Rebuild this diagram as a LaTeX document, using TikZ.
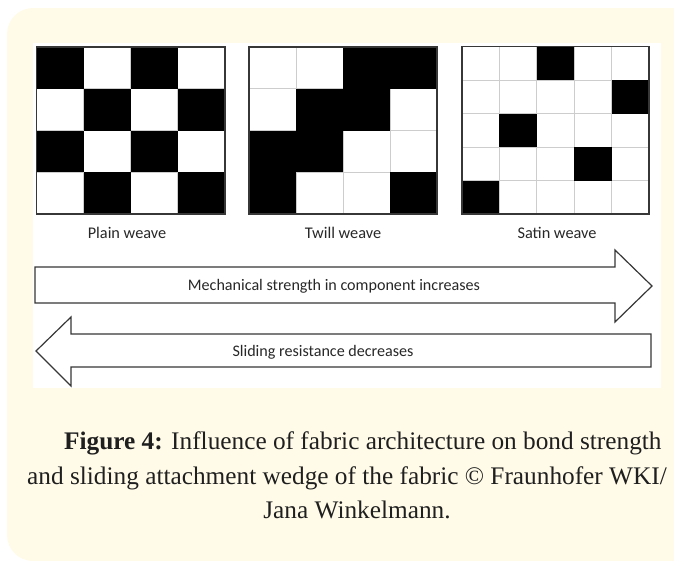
\documentclass[tikz,border=0pt]{standalone}
\usepackage{fontspec}
\setmainfont{Liberation Serif}
\newfontfamily\labelfont{Carlito}
\definecolor{cream}{RGB}{255,251,232}
\definecolor{gridgray}{RGB}{205,205,205}
\definecolor{edgegray}{RGB}{55,55,55}
\definecolor{inkgray}{RGB}{40,40,40}
\tikzset{
  whitecell/.style={fill=white, draw=gridgray, line width=1pt},
  blackcell/.style={fill=black},
  frame/.style={draw=edgegray, line width=1.3pt},
  bigarrow/.style={draw=edgegray, fill=white, line width=1.2pt, line join=miter},
  weavelabel/.style={font=\labelfont\fontsize{16.3}{19}\selectfont, text=inkgray, inner sep=0pt},
  arrowtext/.style={font=\labelfont\fontsize{16.1}{19}\selectfont, text=inkgray, inner sep=0pt},
  captiontext/.style={font=\fontsize{25.3}{30}\selectfont, text=black!88, inner sep=0pt}
}
\begin{document}
\begin{tikzpicture}[x=1pt,y=-1pt]
\useasboundingbox (0,0) rectangle (674,560);
\clip (0,0) rectangle (674,560);

% cream card and white figure panel
\fill[cream, rounded corners=26pt] (7,8) rectangle (700,561);
\fill[white] (33,43) rectangle (661,388);

% plain weave: 4 x 4 checkerboard
\begin{scope}[shift={(36.5,47)}]
  \foreach \c in {0,...,3} \foreach \r in {0,...,3}
    \path[whitecell] (\c*47.1,\r*41.75) rectangle ++(47.1,41.75);
  \foreach \c/\r in {0/0,2/0,1/1,3/1,0/2,2/2,1/3,3/3}
    \path[blackcell] (\c*47.1,\r*41.75) rectangle ++(47.1,41.75);
  \draw[frame] (0,0) rectangle (188.5,167);
\end{scope}

% twill weave: 4 x 4 diagonal pattern
\begin{scope}[shift={(249,47)}]
  \foreach \c in {0,...,3} \foreach \r in {0,...,3}
    \path[whitecell] (\c*47,\r*41.75) rectangle ++(47,41.75);
  \foreach \c/\r in {2/0,3/0,1/1,2/1,0/2,1/2,0/3,3/3}
    \path[blackcell] (\c*47,\r*41.75) rectangle ++(47,41.75);
  \draw[frame] (0,0) rectangle (188,167);
\end{scope}

% satin weave: 5 x 5 scattered floats
\begin{scope}[shift={(462,46.5)}]
  \foreach \c in {0,...,4} \foreach \r in {0,...,4}
    \path[whitecell] (\c*37.4,\r*33.5) rectangle ++(37.4,33.5);
  \foreach \c/\r in {2/0,4/1,1/2,3/3,0/4}
    \path[blackcell] (\c*37.4,\r*33.5) rectangle ++(37.4,33.5);
  \draw[frame] (0,0) rectangle (187,167.5);
\end{scope}

\node[weavelabel] (plain) at (127,233) {Plain weave};
\node[weavelabel] (twill) at (343,233) {Twill weave};
\node[weavelabel] (satin) at (557,233) {Satin weave};

% block arrows
\draw[bigarrow] (35,267) -- (615,267) -- (615,250) -- (652,286)
  -- (615,322) -- (615,303) -- (35,303) -- cycle;
\draw[bigarrow] (651,334) -- (71,334) -- (71,317) -- (36,351)
  -- (71,386) -- (71,367) -- (651,367) -- cycle;

\node[arrowtext] (strength) at (334,286) {Mechanical strength in component increases};
\node[arrowtext] (sliding) at (323,352) {Sliding resistance decreases};

% caption
\node[captiontext, anchor=base west] (cap1) at (64,449)
  {\textbf{Figure 4:} Influence of fabric architecture on bond strength};
\node[captiontext, anchor=base west] (cap2) at (27,484)
  {and sliding attachment wedge of the fabric © Fraunhofer WKI/};
\node[captiontext, anchor=base] (cap3) at (357,518)
  {Jana Winkelmann.};
\end{tikzpicture}
\end{document}
